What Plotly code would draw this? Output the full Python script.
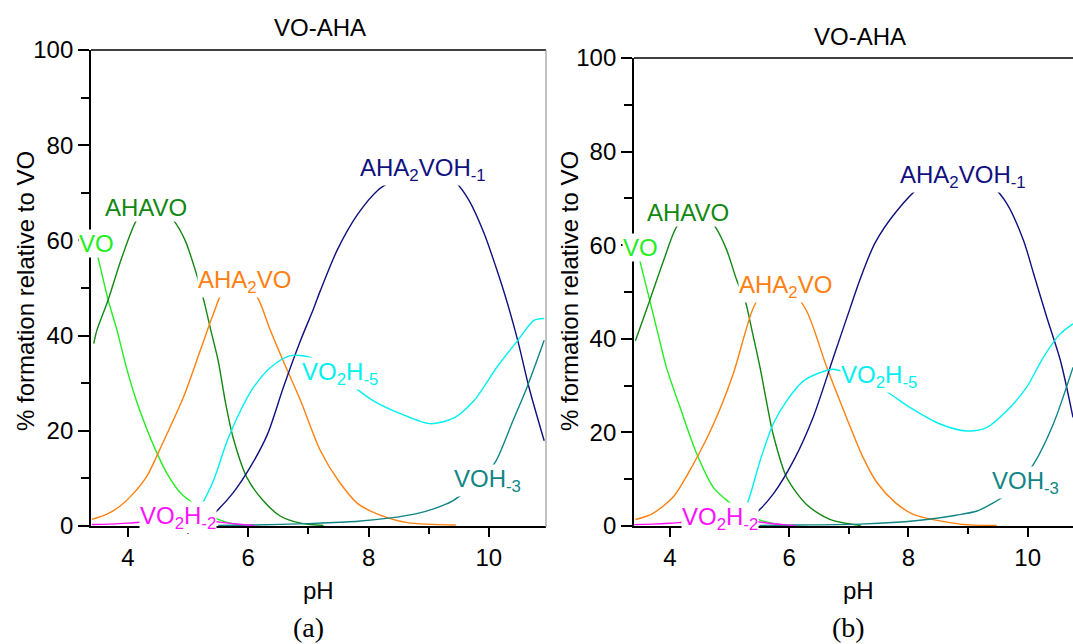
import plotly.graph_objects as go

W, H = 1073, 644

# ---------------- data ----------------
# Panel (a)
ph_vo_a = [3.40, 3.50, 3.67, 3.82, 3.98, 4.14, 4.30, 4.45, 4.65, 4.87, 5.08, 5.30, 5.50, 5.70, 5.90]
vo_a = [61.5, 56.5, 47.5, 41.0, 33.0, 26.3, 20.8, 16.2, 11.0, 7.0, 4.8, 2.7, 1.4, 0.6, 0.2]

ph_ahavo_a = [3.43, 3.48, 3.67, 3.90, 4.14, 4.30, 4.45, 4.60, 4.76, 4.95, 5.12, 5.26, 5.38, 5.50, 5.62, 5.75, 5.98, 6.25, 6.53, 6.87, 7.25]
ahavo_a = [38.3, 41.0, 47.5, 56.5, 64.2, 66.5, 67.0, 66.3, 64.2, 60.0, 53.7, 47.4, 41.0, 34.7, 26.0, 18.5, 10.1, 5.3, 2.1, 0.6, 0.1]

ph_aha2vo_a = [3.40, 3.65, 3.87, 4.08, 4.32, 4.58, 4.92, 5.20, 5.42, 5.60, 5.80, 6.00, 6.17, 6.37, 6.58, 6.87, 7.20, 7.50, 7.82, 8.15, 8.65, 9.45]
aha2vo_a = [1.4, 2.5, 4.2, 6.7, 10.6, 17.5, 27.0, 36.8, 44.6, 50.0, 52.0, 50.5, 47.6, 41.0, 34.7, 26.3, 15.8, 9.5, 4.7, 2.5, 0.7, 0.2]

ph_aha2voh1_a = [5.10, 5.30, 5.48, 5.75, 6.03, 6.32, 6.58, 6.87, 7.08, 7.20, 7.48, 7.82, 8.15, 8.40, 8.70, 8.95, 9.20, 9.45, 9.67, 9.92, 10.12, 10.28, 10.48, 10.67, 10.92]
aha2voh1_a = [0.3, 1.2, 3.2, 7.0, 12.3, 19.3, 29.0, 39.0, 45.5, 49.5, 58.0, 65.5, 70.5, 72.6, 75.0, 75.5, 74.5, 72.2, 68.4, 61.5, 54.3, 48.0, 39.0, 29.0, 17.9]

ph_vo2h5_a = [5.05, 5.20, 5.42, 5.65, 5.87, 6.08, 6.37, 6.70, 7.03, 7.40, 7.78, 8.08, 8.53, 9.02, 9.42, 9.75, 10.13, 10.48, 10.75, 10.92]
vo2h5_a = [0.5, 3.8, 9.5, 17.9, 24.2, 29.0, 33.3, 35.8, 35.4, 32.5, 29.0, 26.3, 23.6, 21.5, 22.7, 26.3, 33.3, 39.0, 43.2, 43.6]

ph_voh3_a = [5.50, 6.08, 7.00, 7.53, 7.83, 8.37, 8.80, 9.08, 9.40, 9.63, 9.90, 10.12, 10.40, 10.63, 10.92]
voh3_a = [0.1, 0.2, 0.5, 0.8, 1.0, 1.7, 2.6, 3.6, 5.3, 7.4, 10.2, 13.7, 22.1, 29.0, 39.0]

ph_vo2h2_a = [3.40, 3.70, 4.00, 4.20, 4.60, 5.00, 5.40, 5.60, 5.90, 6.10]
vo2h2_a = [0.3, 0.4, 0.6, 0.8, 1.2, 1.3, 1.0, 0.7, 0.3, 0.1]

# Panel (b)
ph_vo_b = [3.40, 3.50, 3.66, 3.80, 3.94, 4.17, 4.45, 4.73, 5.00, 5.25, 5.50, 5.75, 5.95]
vo_b = [61.5, 56.4, 48.2, 41.0, 33.9, 25.3, 15.4, 8.2, 5.0, 2.8, 1.3, 0.5, 0.2]

ph_ahavo_b = [3.42, 3.66, 3.90, 4.11, 4.30, 4.45, 4.60, 4.76, 4.95, 5.12, 5.26, 5.38, 5.51, 5.62, 5.73, 5.96, 6.29, 6.68, 7.20]
ahavo_b = [39.6, 48.2, 57.0, 63.9, 66.3, 66.8, 66.2, 63.9, 59.0, 52.5, 48.2, 41.5, 33.9, 26.5, 19.6, 10.3, 4.6, 1.4, 0.1]

ph_aha2vo_b = [3.42, 3.70, 4.06, 4.39, 4.73, 5.06, 5.40, 5.60, 5.80, 6.00, 6.29, 6.63, 6.96, 7.24, 7.47, 7.78, 8.08, 8.87, 9.48]
aha2vo_b = [1.4, 2.6, 6.3, 13.2, 21.8, 32.5, 46.7, 50.5, 52.0, 51.0, 46.0, 33.9, 23.2, 14.6, 9.3, 5.0, 2.5, 0.4, 0.1]

ph_aha2voh1_b = [5.15, 5.45, 5.73, 6.07, 6.40, 6.74, 7.02, 7.19, 7.44, 7.79, 8.19, 8.50, 8.80, 9.10, 9.42, 9.65, 9.93, 10.10, 10.32, 10.55, 10.76]
aha2voh1_b = [0.5, 2.9, 6.8, 13.9, 23.2, 36.0, 46.5, 52.8, 60.5, 67.1, 72.4, 74.2, 74.8, 74.3, 72.4, 68.9, 61.0, 53.9, 44.6, 35.3, 23.2]

ph_vo2h5_b = [5.10, 5.29, 5.51, 5.73, 5.96, 6.24, 6.52, 6.74, 7.20, 7.61, 8.03, 8.53, 8.98, 9.31, 9.65, 9.98, 10.26, 10.54, 10.76]
vo2h5_b = [0.5, 4.6, 13.9, 21.8, 26.8, 31.0, 32.8, 33.5, 31.5, 28.9, 25.3, 21.8, 20.3, 21.0, 24.6, 29.6, 36.0, 41.0, 43.2]

ph_voh3_b = [5.50, 6.10, 7.19, 7.80, 8.31, 8.80, 9.15, 9.40, 9.65, 9.90, 10.10, 10.43, 10.76]
voh3_b = [0.1, 0.2, 0.4, 0.8, 1.4, 2.3, 3.2, 4.8, 6.8, 9.8, 13.2, 21.8, 33.9]

ph_vo2h2_b = [3.40, 3.70, 4.00, 4.20, 4.60, 5.00, 5.40, 5.60, 5.90, 6.10]
vo2h2_b = [0.3, 0.4, 0.6, 0.8, 1.2, 1.3, 1.0, 0.7, 0.3, 0.1]

species_names = ["VO", "AHAVO", "AHA2VO", "AHA2VOH-1", "VO2H-5", "VOH-3", "VO2H-2"]
label_texts = ["VO", "AHAVO", "AHA<sub>2</sub>VO", "AHA<sub>2</sub>VOH<sub>-1</sub>",
               "VO<sub>2</sub>H<sub>-5</sub>", "VOH<sub>-3</sub>", "VO<sub>2</sub>H<sub>-2</sub>"]
colors = ["#22ee22", "#118811", "#ff8010", "#10107f", "#00f0f0", "#108585", "#ff10ff"]

# label anchor positions (pH, %) for each panel
label_pos_a = [(3.48, 59.4), (4.30, 66.9), (5.93, 51.4), (8.91, 75.0), (7.52, 32.0), (9.98, 9.6), (4.83, 1.8)]
label_pos_b = [(3.51, 59.5), (4.30, 67.0), (5.93, 51.2), (8.92, 74.7), (7.51, 32.0), (9.97, 9.3), (4.84, 1.5)]

panel_a = [(ph_vo_a, vo_a), (ph_ahavo_a, ahavo_a), (ph_aha2vo_a, aha2vo_a), (ph_aha2voh1_a, aha2voh1_a),
           (ph_vo2h5_a, vo2h5_a), (ph_voh3_a, voh3_a), (ph_vo2h2_a, vo2h2_a)]
panel_b = [(ph_vo_b, vo_b), (ph_ahavo_b, ahavo_b), (ph_aha2vo_b, aha2vo_b), (ph_aha2voh1_b, aha2voh1_b),
           (ph_vo2h5_b, vo2h5_b), (ph_voh3_b, voh3_b), (ph_vo2h2_b, vo2h2_b)]

# ---------------- figure ----------------
fig = go.Figure()
FONT = "Liberation Sans, Arial, sans-serif"
FS = 24

for panel, xa, ya in [(panel_a, "x", "y"), (panel_b, "x2", "y2")]:
    for (xs, ys), name, col in zip(panel, species_names, colors):
        fig.add_trace(go.Scatter(x=xs, y=ys, mode="lines", name=name, xaxis=xa, yaxis=ya,
                                 line=dict(color=col, width=1.4, shape="spline", smoothing=0.8),
                                 showlegend=False, hoverinfo="skip"))

def px_x(p):
    return p / W

def px_y(p):
    return (H - p) / H

common_x = dict(showline=True, linecolor="black", linewidth=1.8, ticks="outside", ticklen=9, tickwidth=1.6,
                tickcolor="black", tickvals=[4, 6, 8, 10], showgrid=False, zeroline=False, automargin=False,
                tickfont=dict(family=FONT, size=FS, color="black"),
                minor=dict(ticks="outside", ticklen=6, tickwidth=1.6, tickcolor="black", dtick=1, tick0=0, showgrid=False))
common_y = dict(showline=True, linecolor="black", linewidth=1.8, ticks="outside", ticklen=11, tickwidth=1.6,
                tickcolor="black", tickvals=[0, 20, 40, 60, 80, 100], showgrid=False, zeroline=False, automargin=False,
                tickfont=dict(family=FONT, size=FS, color="black"), range=[0, 100],
                minor=dict(ticks="outside", ticklen=8, tickwidth=1.6, tickcolor="black", dtick=10, tick0=0, showgrid=False))

fig.update_layout(
    width=W, height=H, margin=dict(l=0, r=0, t=0, b=0, pad=0, autoexpand=False),
    paper_bgcolor="white", plot_bgcolor="white", showlegend=False,
    xaxis=dict(domain=[px_x(91), px_x(546)], range=[3.385, 10.95], anchor="y", **common_x),
    yaxis=dict(domain=[px_y(526), px_y(50)], anchor="x", **common_y),
    xaxis2=dict(domain=[px_x(634), 1.0], range=[3.396, 10.76], anchor="y2", **common_x),
    yaxis2=dict(domain=[px_y(526), px_y(58)], anchor="x2", **common_y),
)

shapes = [
    dict(type="line", xref="paper", yref="paper", x0=px_x(91), x1=px_x(546), y0=px_y(50), y1=px_y(50),
         line=dict(color="black", width=1.6)),
    dict(type="line", xref="paper", yref="paper", x0=px_x(546), x1=px_x(546), y0=px_y(50), y1=px_y(527),
         line=dict(color="#999999", width=1.2)),
    dict(type="line", xref="paper", yref="paper", x0=px_x(634), x1=1.0, y0=px_y(58), y1=px_y(58),
         line=dict(color="black", width=1.6)),
]
fig.update_layout(shapes=shapes)

ann = []
for pos_list, xr, yr in [(label_pos_a, "x", "y"), (label_pos_b, "x2", "y2")]:
    for (lx, ly), txt, col in zip(pos_list, label_texts, colors):
        ann.append(dict(x=lx, y=ly, xref=xr, yref=yr, text=txt, showarrow=False,
                        font=dict(family=FONT, size=FS, color=col), bgcolor="white", borderpad=0,
                        xanchor="center", yanchor="middle"))

# titles, axis titles, panel letters
for cx, ty, letter in [(320, 28, "(a)"), (860, 37, "(b)")]:
    ann.append(dict(x=px_x(cx), y=px_y(ty), xref="paper", yref="paper", text="VO-AHA", showarrow=False,
                    font=dict(family=FONT, size=FS, color="black"), xanchor="center", yanchor="middle"))
    ann.append(dict(x=px_x(cx - 2), y=px_y(590), xref="paper", yref="paper", text="pH", showarrow=False,
                    font=dict(family=FONT, size=FS, color="black"), xanchor="center", yanchor="middle"))
    ann.append(dict(x=px_x(cx - 12), y=px_y(627), xref="paper", yref="paper", text=letter, showarrow=False,
                    font=dict(family="Liberation Serif, Times New Roman, serif", size=28, color="black"),
                    xanchor="center", yanchor="middle"))

for cx, cy in [(25, 291), (569, 291)]:
    ann.append(dict(x=px_x(cx), y=px_y(cy), xref="paper", yref="paper", text="% formation relative to VO",
                    showarrow=False, textangle=-90,
                    font=dict(family=FONT, size=FS, color="black"), xanchor="center", yanchor="middle"))

fig.update_layout(annotations=ann)

fig.write_html("out.html")
